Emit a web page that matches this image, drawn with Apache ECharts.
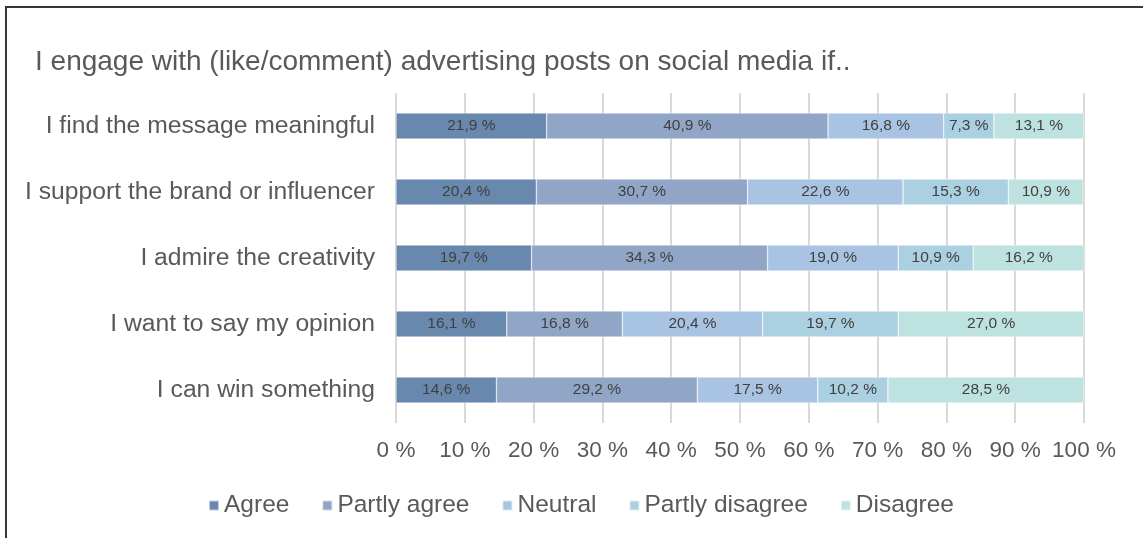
<!DOCTYPE html>
<html>
<head>
<meta charset="utf-8">
<script src="https://cdn.jsdelivr.net/npm/echarts@6/dist/echarts.min.js"></script>
<style>
  html, body { margin: 0; padding: 0; background: #fff; overflow: hidden; }
  #chart { position: absolute; left: 0; top: 0; width: 1143px; height: 538px; }
  #frame { position: absolute; left: 5px; top: 6px; width: 1300px; height: 700px;
           border: 2px solid #363636; box-sizing: border-box; pointer-events: none; }
</style>
</head>
<body>
<div id="chart"></div>
<div id="frame"></div>
<script>
const titleText = 'I engage with (like/comment) advertising posts on social media if..';
const statements = [
  'I find the message meaningful',
  'I support the brand or influencer',
  'I admire the creativity',
  'I want to say my opinion',
  'I can win something'
];
const seriesNames = ['Agree', 'Partly agree', 'Neutral', 'Partly disagree', 'Disagree'];
const agree          = [21.9, 20.4, 19.7, 16.1, 14.6];
const partlyAgree    = [40.9, 30.7, 34.3, 16.8, 29.2];
const neutral        = [16.8, 22.6, 19.0, 20.4, 17.5];
const partlyDisagree = [7.3, 15.3, 10.9, 19.7, 10.2];
const disagree       = [13.1, 10.9, 16.2, 27.0, 28.5];
const colors = ['#6888ad', '#91a5c7', '#a9c3e2', '#abd0e1', '#bee2df'];

const textColor = '#595959';
const font = 'Liberation Sans, Arial, Helvetica, sans-serif';
const seriesData = [agree, partlyAgree, neutral, partlyDisagree, disagree];

const fmt = v => v.toFixed(1).replace('.', ',') + ' %';

const chart = echarts.init(document.getElementById('chart'), null, { renderer: 'canvas' });
chart.setOption({
  animation: false,
  backgroundColor: '#fff',
  textStyle: { fontFamily: font, color: textColor },
  title: {
    text: titleText,
    left: 30,
    top: 43,
    textStyle: { fontFamily: font, fontSize: 28, fontWeight: 'normal', color: textColor }
  },
  legend: {
    data: seriesNames,
    left: 203,
    top: 488,
    itemWidth: 10,
    itemHeight: 10,
    itemGap: 32,
    icon: 'rect',
    textStyle: { fontFamily: font, fontSize: 24.5, color: textColor, padding: [0, 0, 0, 0] }
  },
  grid: { left: 396, right: 59, top: 93, height: 330, containLabel: false },
  xAxis: {
    type: 'value',
    min: 0,
    max: 100,
    interval: 10,
    axisLine: { show: false },
    axisTick: { show: false },
    axisLabel: {
      formatter: v => v + ' %',
      fontFamily: font, fontSize: 22.5, color: textColor, margin: 16
    },
    splitLine: { show: true, lineStyle: { color: '#d9d9d9', width: 2 } }
  },
  yAxis: {
    type: 'category',
    data: statements,
    inverse: true,
    axisLine: { show: false },
    axisTick: { show: false },
    axisLabel: { fontFamily: font, fontSize: 24.7, color: textColor, margin: 21 }
  },
  series: seriesNames.map((name, i) => ({
    name: name,
    type: 'bar',
    stack: 'total',
    barWidth: 26,
    data: seriesData[i],
    itemStyle: { color: colors[i], borderColor: 'rgba(255,255,255,0.6)', borderWidth: 0.6 },
    label: {
      show: true,
      position: 'inside',
      formatter: p => fmt(p.value),
      fontFamily: font,
      fontSize: 15.5,
      color: '#404040'
    }
  }))
});
</script>
</body>
</html>
